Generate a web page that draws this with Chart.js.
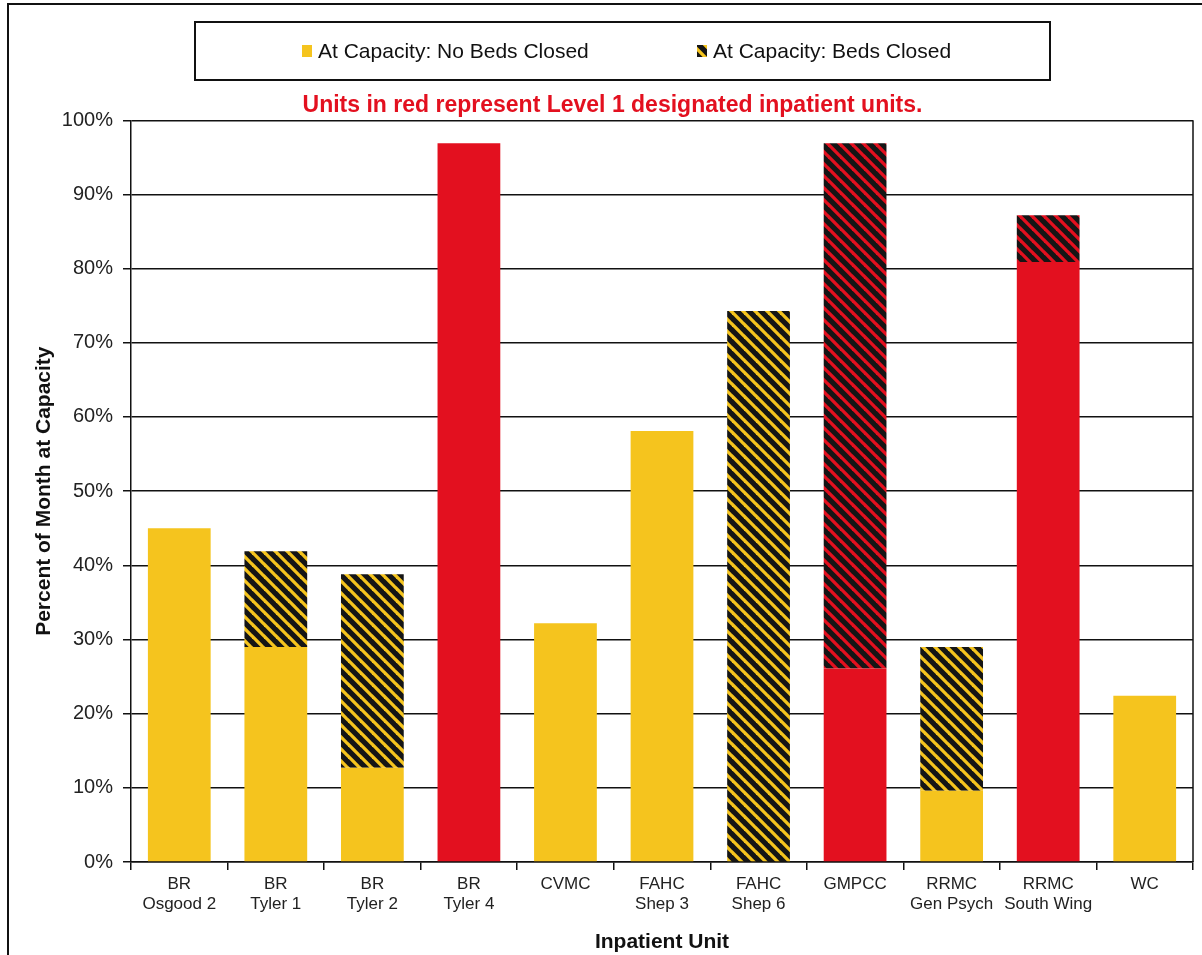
<!DOCTYPE html>
<html>
<head>
<meta charset="utf-8">
<title>Inpatient units at capacity</title>
<script src="https://cdn.jsdelivr.net/npm/chart.js@4.4.1/dist/chart.umd.min.js"></script>
<style>
  html, body { margin: 0; padding: 0; background: #fff; }
  #wrap { width: 1202px; height: 955px; }
</style>
</head>
<body>
<div id="wrap"><canvas id="chart" width="1202" height="955"></canvas></div>
<script>
// units on the x axis, two-line labels
var units = [
    ['BR', 'Osgood 2'], ['BR', 'Tyler 1'], ['BR', 'Tyler 2'], ['BR', 'Tyler 4'],
    ['CVMC'], ['FAHC', 'Shep 3'], ['FAHC', 'Shep 6'], ['GMPCC'],
    ['RRMC', 'Gen Psych'], ['RRMC', 'South Wing'], ['WC']
];
// Level 1 designated units are drawn in red
var level1 = [false, false, false, true, false, false, false, true, false, true, false];

var seriesNames = ['At Capacity: No Beds Closed', 'At Capacity: Beds Closed'];
var noBedsClosed = [45, 29, 12.7, 96.9, 32.2, 58.1, 0, 26.1, 9.6, 80.9, 22.4];
var bedsClosed = [0, 12.9, 26.1, 0, 0, 0, 74.3, 70.8, 19.4, 6.3, 0];

var yTickStep = 10;
var noteText = 'Units in red represent Level 1 designated inpatient units.';

var YELLOW = '#F5C41E';
var RED = '#E3101F';
var INK = '#111';
var FONT = '"Liberation Sans", Arial, sans-serif';

Chart.defaults.font.family = FONT;

// diagonal "\" stripes over a near-black ground
function stripes(base) {
    var n = 12;
    var c = document.createElement('canvas');
    c.width = c.height = n;
    var g = c.getContext('2d');
    g.fillStyle = '#151515';
    g.fillRect(0, 0, n, n);
    g.strokeStyle = base;
    g.lineWidth = 3.3;
    for (var k = -n; k <= n; k += n) {
        g.beginPath();
        g.moveTo(k - n, -n);
        g.lineTo(k + 2 * n, 2 * n);
        g.stroke();
    }
    return g.createPattern(c, 'repeat');
}

var yellowStripes = stripes(YELLOW);
var redStripes = stripes(RED);

var solidFill = level1.map(function(l) { return l ? RED : YELLOW; });
var stripeFill = level1.map(function(l) { return l ? redStripes : yellowStripes; });

// boxed legend, outer frame and right edge of the plot
var frame = {
    id: 'frame',
    afterDraw: function(chart) {
        var ctx = chart.ctx;
        var a = chart.chartArea;
        ctx.save();
        ctx.strokeStyle = INK;
        ctx.lineWidth = 2;
        ctx.strokeRect(8, 4, 1220, 980);
        ctx.strokeRect(195, 22, 855, 58);

        ctx.lineWidth = 1.5;
        ctx.beginPath();
        ctx.moveTo(a.right, a.top);
        ctx.lineTo(a.right, a.bottom);
        ctx.stroke();

        ctx.font = '21px ' + FONT;
        ctx.textBaseline = 'middle';
        var xs = [302, 697];
        chart.data.datasets.forEach(function(d, i) {
            ctx.fillStyle = i === 0 ? YELLOW : yellowStripes;
            ctx.fillRect(xs[i], 45, 10, 12);
            ctx.fillStyle = INK;
            ctx.fillText(d.label, xs[i] + 16, 52);
        });
        ctx.restore();
    }
};

new Chart(document.getElementById('chart'), {
    type: 'bar',
    data: {
        labels: units,
        datasets: [{
            label: seriesNames[0],
            data: noBedsClosed,
            backgroundColor: solidFill,
            borderWidth: 0
        }, {
            label: seriesNames[1],
            data: bedsClosed,
            backgroundColor: stripeFill,
            borderWidth: 0
        }]
    },
    options: {
        responsive: false,
        animation: false,
        barPercentage: 0.65,
        categoryPercentage: 1,
        layout: { padding: { top: 93, left: 32, right: 9, bottom: 0 } },
        plugins: {
            legend: { display: false },
            tooltip: { enabled: false },
            title: {
                display: true,
                text: noteText,
                color: RED,
                font: { size: 23, weight: 'bold', lineHeight: 1.1 },
                padding: { top: 0, bottom: 2 }
            }
        },
        scales: {
            x: {
                stacked: true,
                grid: { offset: true, drawOnChartArea: false, color: INK, lineWidth: 1.5, tickLength: 8 },
                border: { color: INK, width: 1.5 },
                ticks: { font: { size: 17 }, color: '#222', padding: 4, maxRotation: 0, autoSkip: false },
                title: {
                    display: true,
                    text: 'Inpatient Unit',
                    color: INK,
                    font: { size: 21, weight: 'bold' },
                    padding: { top: 2, bottom: 0 }
                },
                afterFit: function(s) { s.height = 93; }
            },
            y: {
                stacked: true,
                min: 0,
                max: 100,
                grid: { color: INK, lineWidth: 1.5, tickLength: 8 },
                border: { color: INK, width: 1.5 },
                ticks: {
                    stepSize: yTickStep,
                    font: { size: 20 },
                    color: '#222',
                    padding: 10,
                    callback: function(v) { return v + '%'; }
                },
                title: {
                    display: true,
                    text: 'Percent of Month at Capacity',
                    color: INK,
                    font: { size: 21, weight: 'bold' },
                    padding: 0
                },
                afterFit: function(s) { s.width = 99; }
            }
        }
    },
    plugins: [frame]
});
</script>
</body>
</html>
